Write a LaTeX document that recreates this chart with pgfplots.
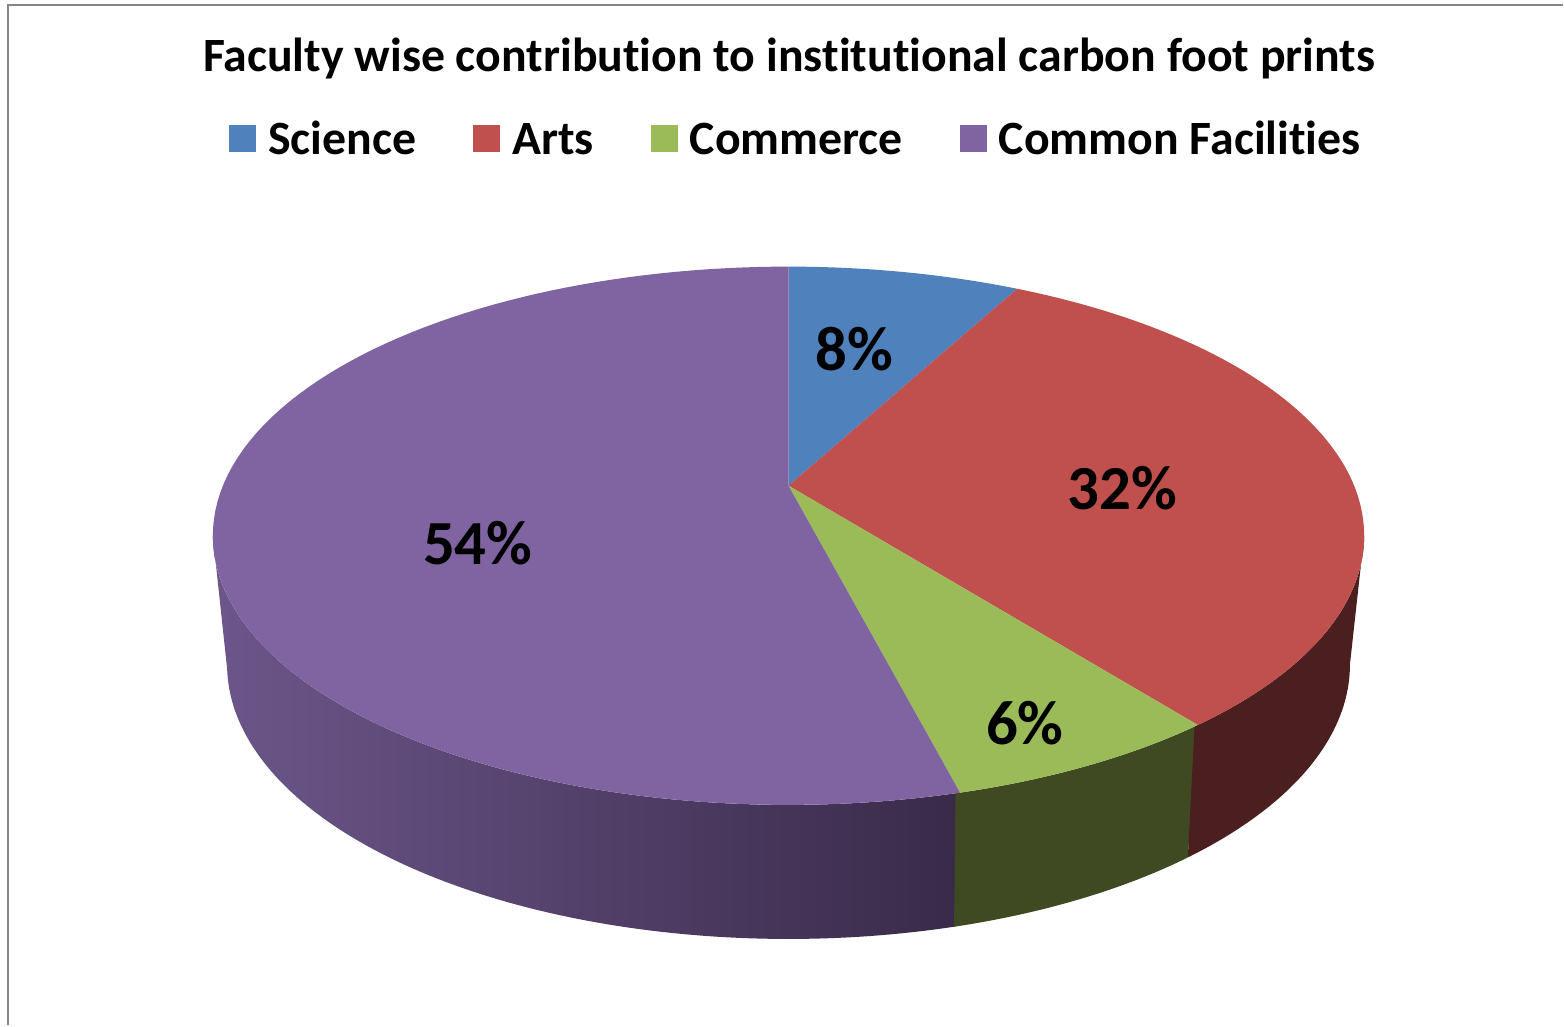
\documentclass[border=0pt]{standalone}
\usepackage{pgfplots}
\pgfplotsset{compat=1.18}
\usepackage{pgfplotstable}
\usepackage{fontspec}
\setmainfont{Carlito}[Ligatures=NoCommon]

\definecolor{sci}{RGB}{79,129,189}
\definecolor{arts}{RGB}{192,80,77}
\definecolor{comm}{RGB}{155,187,89}
\definecolor{cfac}{RGB}{128,100,162}
\definecolor{artsSide}{RGB}{75,30,31}
\definecolor{commSide}{RGB}{63,74,35}
\definecolor{cfacL}{RGB}{108,86,138}
\definecolor{cfacM}{RGB}{78,62,99}
\definecolor{cfacR}{RGB}{57,42,73}
\definecolor{frame}{RGB}{134,134,134}

\pgfplotstableread{
faculty value
Science 7.8
Arts 31.6
Commerce 6.6
CommonFacilities 54.0
}\piedata
\pgfplotstablegetelem{0}{value}\of\piedata \let\vA\pgfplotsretval
\pgfplotstablegetelem{1}{value}\of\piedata \let\vB\pgfplotsretval
\pgfplotstablegetelem{2}{value}\of\piedata \let\vC\pgfplotsretval
\pgfplotstablegetelem{3}{value}\of\piedata \let\vD\pgfplotsretval
\pgfmathsetmacro{\aA}{90}
\pgfmathsetmacro{\aB}{\aA-3.6*\vA}
\pgfmathsetmacro{\aC}{\aB-3.6*\vB}
\pgfmathsetmacro{\aD}{\aC-3.6*\vC}
\pgfmathsetmacro{\aE}{\aD-3.6*\vD}
\pgfmathsetmacro{\aCo}{\aC-0.4}
\pgfmathsetmacro{\aDo}{\aD-0.4}

\newcommand{\pieTop}[3]{%
  \addplot[fill=#3, draw=none, domain=0:1.04, samples=105, variable=\t]
   ({tx(#1+(#2-#1)*min(\t,1), ((\t>1.005)?0:1))},
    {ty(#1+(#2-#1)*min(\t,1), ((\t>1.005)?0:1))});}
\newcommand{\pieSide}[3]{%
  \addplot[#3, draw=none, forget plot, domain=0:2, samples=201, variable=\t]
   ({(\t<1.005) ? tx(#1+(#2-#1)*\t,1) : bx(#2+(#1-#2)*(\t-1))},
    {(\t<1.005) ? ty(#1+(#2-#1)*\t,1) : by(#2+(#1-#2)*(\t-1))});}

\begin{document}%
\begin{tikzpicture}
\begin{axis}[
  scale only axis, width=782bp, height=513bp,
  xmin=0, xmax=1564, ymin=0, ymax=1026, y dir=reverse,
  hide axis, clip=false,
  declare function={
    kk(\a)=1+0.186*sin(\a);
    tx(\a,\r)=789+\r*566*cos(\a)/kk(\a);
    ty(\a,\r)=486-\r*260*sin(\a)/kk(\a);
    bx(\a)=789+552*cos(\a)/kk(\a);
    by(\a)=614-265*sin(\a)/kk(\a);
  },
  legend columns=4,
  legend image code/.code={\fill[#1] (0bp,-6.75bp) rectangle (13.5bp,6.75bp);},
  legend style={at={(axis cs:795.5,139)}, anchor=center, draw=none, fill=none,
    font=\fontsize{24}{28}\selectfont\bfseries, inner sep=0pt, outer sep=0pt,
    nodes={inner sep=0pt, text height=15.5bp, text depth=0bp},
    /tikz/every odd column/.append style={column sep=6bp},
    /tikz/every even column/.append style={column sep=28.5bp}},
]
% bounding box and frame
\addplot[draw=none, forget plot] coordinates {(0,0) (1564,1026)};
\addplot[frame, line width=1bp, forget plot] coordinates {(1564,5) (8,5) (8,1026)};

% sides (drawn back to front with slight overlaps)
\pieSide{\aD}{-169.3}{left color=cfacL, middle color=cfacM, right color=cfacR}
\pieSide{\aC}{\aDo}{fill=commSide}
\pieSide{-10.7}{\aCo}{fill=artsSide}

% top faces
\pieTop{\aA}{\aB}{sci}
\addlegendentry{Science}
\pieTop{\aB}{\aC}{arts}
\addlegendentry{Arts}
\pieTop{\aC}{\aD}{comm}
\addlegendentry{Commerce}
\pieTop{\aD}{\aE}{cfac}
\addlegendentry{Common Facilities}

% labels
\node[font=\fontsize{31.5}{36}\selectfont\bfseries, anchor=base] at (axis cs:855,371) {8\%};
\node[font=\fontsize{31.5}{36}\selectfont\bfseries, anchor=base] at (axis cs:1123,510) {32\%};
\node[font=\fontsize{31.5}{36}\selectfont\bfseries, anchor=base] at (axis cs:1025.5,745) {6\%};
\node[font=\fontsize{31.5}{36}\selectfont\bfseries, anchor=base] at (axis cs:478,565) {54\%};

\node[font=\fontsize{24}{28}\selectfont\bfseries, anchor=base] at (axis cs:789.5,72)
  {Faculty wise contribution to institutional carbon foot prints};
\end{axis}
\end{tikzpicture}%
\end{document}
